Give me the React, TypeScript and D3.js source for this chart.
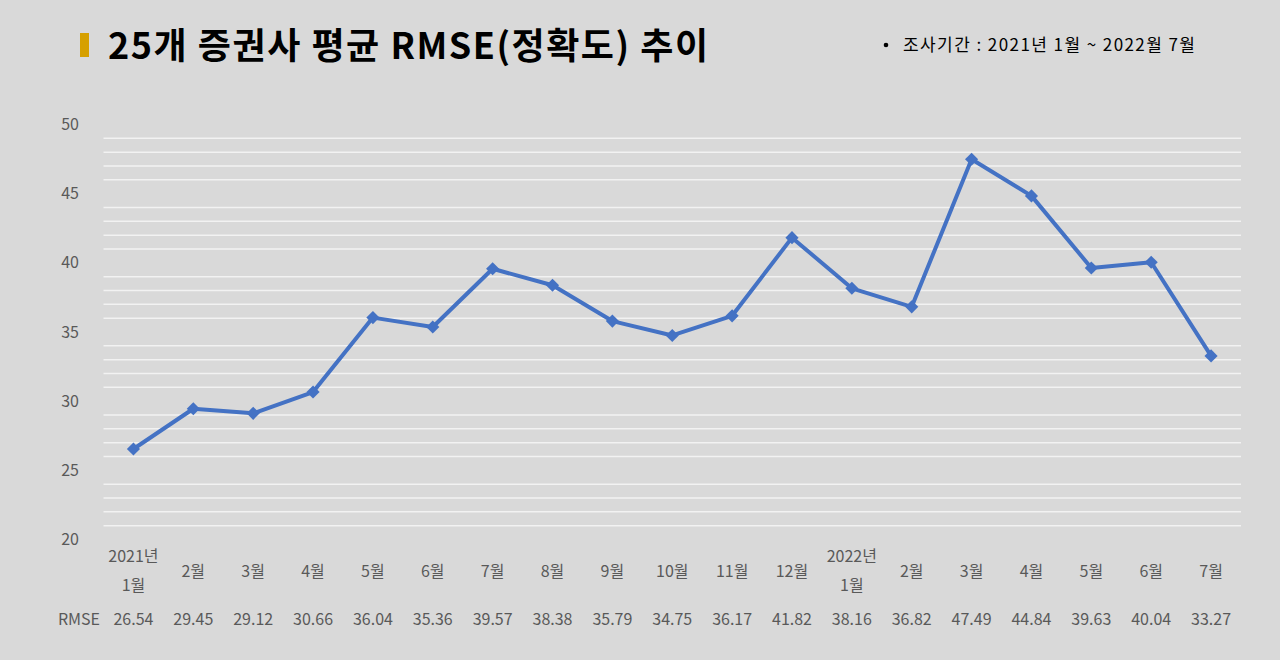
import React from "react";
import * as d3 from "d3";

const monthsTop = ["2021년", "", "", "", "", "", "", "", "", "", "", "", "2022년", "", "", "", "", "", ""];
const monthsBottom = ["1월", "2월", "3월", "4월", "5월", "6월", "7월", "8월", "9월", "10월", "11월", "12월", "1월", "2월", "3월", "4월", "5월", "6월", "7월"];
const rmseValues = [26.54, 29.45, 29.12, 30.66, 36.04, 35.36, 39.57, 38.38, 35.79, 34.75, 36.17, 41.82, 38.16, 36.82, 47.49, 44.84, 39.63, 40.04, 33.27];
const yTicks = [20, 25, 30, 35, 40, 45, 50];
const titleText = "25개 증권사 평균 RMSE(정확도) 추이";
const periodText = "조사기간 : 2021년 1월  ~  2022월 7월";

const W = 1280;
const H = 660;
const FONT = "'Noto Sans CJK KR', 'Noto Sans', sans-serif";

export default function App() {
  const ids = rmseValues.map((_, i) => String(i));
  const x = d3.scaleBand<string>().domain(ids).range([103.5, 1241]);
  const y = d3.scaleLinear().domain([20, 50]).range([539.5, 124.5]);
  const cx = (i: number) => (x(String(i)) as number) + x.bandwidth() / 2;

  const grid = d3.range(21, 50).filter((v) => v % 5 !== 0);
  const line = d3
    .line<number>()
    .x((_, i) => cx(i))
    .y((d) => y(d));

  const diamond = d3.symbol().type(d3.symbolDiamond2).size(110)();

  return (
    <svg width={W} height={H} style={{ display: "block", position: "absolute", left: 0, top: 0 }} fontFamily={FONT}>
      <rect x={0} y={0} width={W} height={H} fill="#d9d9d9" />
      {/* title */}
      <rect x={80} y={33} width={9} height={24} fill="#d6a000" />
      <text x={108} y={59} fontSize={36} fontWeight={700} fill="#000" textLength={600} lengthAdjust="spacing">
        {titleText}
      </text>
      <circle cx={886} cy={45} r={2.3} fill="#000" />
      <text x={903} y={51} fontSize={17} fill="#000" textLength={292} lengthAdjust="spacing">
        {periodText}
      </text>

      {/* gridlines */}
      {grid.map((v) => (
        <line key={v} x1={103.5} x2={1241} y1={y(v)} y2={y(v)} stroke="#f2f2f2" strokeWidth={1.5} />
      ))}

      {/* y ticks */}
      {yTicks.map((v) => (
        <text key={v} x={79} y={y(v) + 5.5} fontSize={16} fill="#595959" textAnchor="end">
          {v}
        </text>
      ))}

      {/* line */}
      <path d={line(rmseValues) || ""} fill="none" stroke="#4472c4" strokeWidth={4} strokeLinejoin="round" />
      {rmseValues.map((v, i) => (
        <path key={i} d={diamond || ""} transform={`translate(${cx(i)},${y(v)})`} fill="#4472c4" />
      ))}

      {/* x labels */}
      {monthsBottom.map((m, i) =>
        monthsTop[i] ? (
          <g key={i}>
            <text x={cx(i)} y={562} fontSize={16} fill="#595959" textAnchor="middle">
              {monthsTop[i]}
            </text>
            <text x={cx(i)} y={591} fontSize={16} fill="#595959" textAnchor="middle">
              {m}
            </text>
          </g>
        ) : (
          <text key={i} x={cx(i)} y={577} fontSize={16} fill="#595959" textAnchor="middle">
            {m}
          </text>
        )
      )}

      {/* data row */}
      <text x={100} y={625} fontSize={16} fill="#595959" textAnchor="end">
        RMSE
      </text>
      {rmseValues.map((v, i) => (
        <text key={i} x={cx(i)} y={625} fontSize={16} fill="#595959" textAnchor="middle">
          {v.toFixed(2)}
        </text>
      ))}
    </svg>
  );
}
